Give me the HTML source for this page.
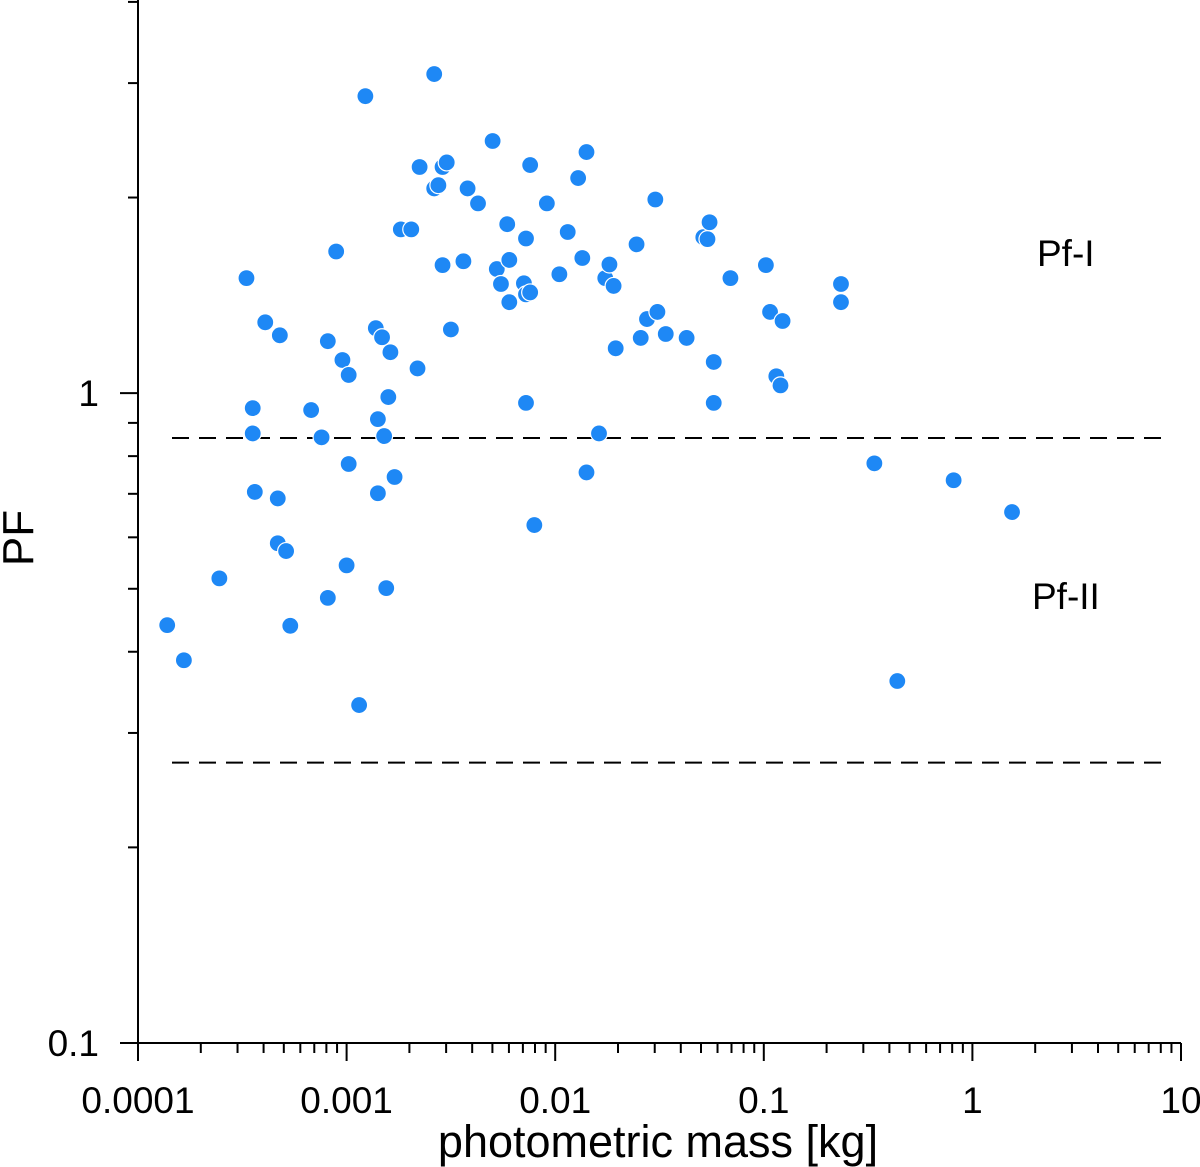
<!DOCTYPE html>
<html><head><meta charset="utf-8"><style>
html,body{margin:0;padding:0;background:#fff;}
svg{display:block;font-family:"Liberation Sans",sans-serif;}
</style></head><body>
<svg id="chart" width="1200" height="1167" viewBox="0 0 1200 1167"></svg>
<script>
const massLog10 = [-3.86,-3.78,-3.61,-3.48,-3.45,-3.45,-3.44,-3.39,-3.33,-3.33,-3.32,-3.29,-3.27,-3.17,-3.12,-3.09,-3.09,-3.05,-3.02,-3.00,-2.99,-2.99,-2.94,-2.91,-2.86,-2.85,-2.85,-2.83,-2.82,-2.81,-2.80,-2.79,-2.77,-2.74,-2.69,-2.66,-2.65,-2.58,-2.58,-2.56,-2.54,-2.54,-2.52,-2.50,-2.44,-2.42,-2.37,-2.30,-2.28,-2.26,-2.23,-2.22,-2.22,-2.15,-2.14,-2.14,-2.14,-2.12,-2.12,-2.10,-2.04,-1.98,-1.94,-1.89,-1.87,-1.85,-1.85,-1.79,-1.76,-1.74,-1.72,-1.71,-1.61,-1.59,-1.56,-1.52,-1.51,-1.47,-1.37,-1.29,-1.27,-1.26,-1.24,-1.24,-1.16,-0.99,-0.97,-0.94,-0.92,-0.91,-0.63,-0.63,-0.47,-0.36,-0.09,0.19];
const pfLog10 = [-0.357,-0.411,-0.285,0.177,-0.062,-0.023,-0.152,0.109,-0.162,-0.231,0.089,-0.243,-0.358,-0.026,-0.068,0.080,-0.315,0.218,0.051,-0.265,0.028,-0.109,-0.480,0.457,0.100,-0.040,-0.154,0.086,-0.066,-0.300,-0.006,0.063,-0.129,0.252,0.252,0.038,0.348,0.491,0.315,0.320,0.197,0.348,0.355,0.098,0.203,0.315,0.292,0.388,0.191,0.168,0.260,0.140,0.205,0.169,0.238,0.152,-0.015,0.155,0.351,-0.203,0.292,0.183,0.248,0.331,0.208,0.371,-0.122,-0.062,0.177,0.198,0.165,0.069,0.229,0.085,0.114,0.298,0.125,0.091,0.085,0.240,0.237,0.263,0.048,-0.015,0.177,0.197,0.125,0.026,0.012,0.111,0.168,0.140,-0.108,-0.443,-0.134,-0.183];
const xTickLabels = ["0.0001","0.001","0.01","0.1","1","10"];
const yTickLabels = ["0.1","1"];
const thresholds = [0.853, 0.27];

const NS="http://www.w3.org/2000/svg";
const svg=document.getElementById('chart');
const X0=138,X1=1181,Y0=1043,Y1=0;
const xMinE=-4,xMaxE=1,yMinE=-1,yMaxE=0.605;
const xs=e=>X0+(e-xMinE)/(xMaxE-xMinE)*(X1-X0);
const ys=e=>Y0-(e-yMinE)/(yMaxE-yMinE)*(Y0-Y1);
function mk(t,a,p){const el=document.createElementNS(NS,t);for(const k in a)el.setAttribute(k,a[k]);(p||svg).appendChild(el);return el;}

let ax=mk('line',{x1:X0,y1:0,x2:X0,y2:Y0+18,stroke:'#000','stroke-width':2});


ax=mk('line',{x1:X0-18,y1:Y0,x2:X1,y2:Y0,stroke:'#000','stroke-width':2});



for(let d=xMinE;d<=xMaxE;d++){
  const x=xs(d);
  const t=mk('line',{x1:x,y1:Y0,x2:x,y2:Y0+18,stroke:'#000','stroke-width':2});
  
  
  const lb=mk('text',{x:x,y:1113,'text-anchor':'middle','font-size':37});
  lb.textContent=xTickLabels[d-xMinE];
  
  
  if(d<xMaxE){for(let m=2;m<=9;m++){const mx=xs(d+Math.log10(m));
    const mt=mk('line',{x1:mx,y1:Y0,x2:mx,y2:Y0+10,stroke:'#000','stroke-width':2});
    
    }}
}
for(let d=yMinE;d<=0;d++){
  const y=ys(d);
  const t=mk('line',{x1:X0-18,y1:y,x2:X0,y2:y,stroke:'#000','stroke-width':2});
  
  
  const lb=mk('text',{x:99,y:y+13,'text-anchor':'end','font-size':37});
  lb.textContent=yTickLabels[d-yMinE];
  
  
}
for(let d=yMinE;d<=0;d++){for(let m=2;m<=9;m++){const e=d+Math.log10(m);if(e>yMaxE)continue;const y=ys(e);
  const mt=mk('line',{x1:X0-10,y1:y,x2:X0,y2:y,stroke:'#000','stroke-width':2});
  
  }}

let tt=mk('text',{x:658,y:1157,'text-anchor':'middle','font-size':45});
tt.textContent='photometric mass [kg]';


tt=mk('text',{x:33,y:538,'text-anchor':'middle','font-size':44,transform:'rotate(-90 33 538)'});
tt.textContent='PF';



thresholds.forEach(v=>{const y=ys(Math.log10(v));
  const l=mk('line',{x1:172,y1:y,x2:1165,y2:y,stroke:'#000','stroke-width':2,'stroke-dasharray':'17 10'});
  
  });

tt=mk('text',{x:1037,y:266,'font-size':37});tt.textContent='Pf-I';


tt=mk('text',{x:1032,y:609,'font-size':37});tt.textContent='Pf-II';



for(let i=0;i<massLog10.length;i++){
  const c=mk('circle',{cx:xs(massLog10[i]),cy:ys(pfLog10[i]),r:8.5,fill:'#1e88f5',stroke:'#fff','stroke-width':1.2});
  
  
}
</script>
</body></html>
